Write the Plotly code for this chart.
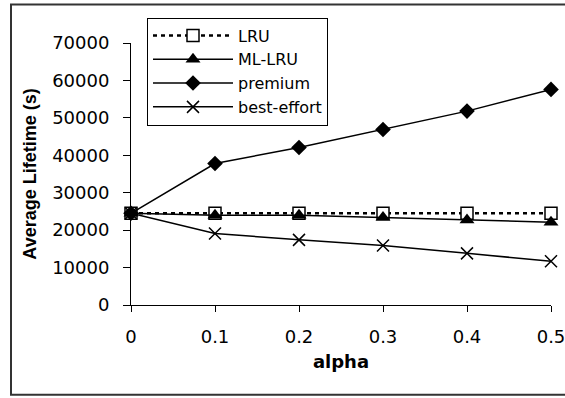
import plotly.graph_objects as go

alpha = [0, 0.1, 0.2, 0.3, 0.4, 0.5]
alpha_labels = ["0", "0.1", "0.2", "0.3", "0.4", "0.5"]
lru = [24500, 24500, 24500, 24500, 24500, 24500]
ml_lru = [24500, 24000, 24000, 23400, 22700, 22100]
premium = [24500, 37800, 42100, 46900, 51800, 57600]
best_effort = [24500, 19100, 17400, 15900, 13800, 11700]

TICKFONT = "DejaVu Sans, sans-serif"
TEXTFONT = "Liberation Sans, Arial, sans-serif"

fig = go.Figure()
fig.add_trace(go.Scatter(
    x=alpha, y=lru, name="LRU", mode="lines+markers",
    line=dict(color="black", width=2.5, dash="4px,4px"),
    marker=dict(symbol="square", size=12, color="white", line=dict(color="black", width=1.5)),
    cliponaxis=False))
fig.add_trace(go.Scatter(
    x=alpha, y=ml_lru, name="ML-LRU", mode="lines+markers",
    line=dict(color="black", width=1.5),
    marker=dict(symbol="triangle-up", size=13, color="black"),
    cliponaxis=False))
fig.add_trace(go.Scatter(
    x=alpha, y=premium, name="premium", mode="lines+markers",
    line=dict(color="black", width=1.5),
    marker=dict(symbol="diamond", size=12, color="black"),
    cliponaxis=False))
fig.add_trace(go.Scatter(
    x=alpha, y=best_effort, name="best-effort", mode="lines+markers",
    line=dict(color="black", width=1.5),
    marker=dict(symbol="x-thin-open", size=12, color="black", line=dict(color="black", width=1.5)),
    cliponaxis=False))

fig.update_layout(
    width=565, height=398,
    margin=dict(l=131, r=14, t=42.5, b=93),
    paper_bgcolor="white", plot_bgcolor="white",
    font=dict(family=TEXTFONT, size=18, color="black"),
    showlegend=True,
    legend=dict(
        x=(147 - 131) / 420, y=(305 - 17) / 262.5, xanchor="left", yanchor="top",
        bordercolor="black", borderwidth=1, bgcolor="white",
        font=dict(family=TICKFONT, size=16, color="black"),
        itemwidth=80, tracegroupgap=0,
    ),
    xaxis=dict(
        range=[0, 0.5], tickvals=alpha, ticktext=alpha_labels,
        showgrid=False, zeroline=False, showline=True, linecolor="black", linewidth=1,
        ticks="outside", ticklen=6, tickcolor="black",
        tickfont=dict(family=TICKFONT, size=18),
        ticklabelstandoff=9, ticklabeloverflow="allow", automargin=False,
        title=dict(text="<b>alpha</b>", font=dict(family=TICKFONT, size=18), standoff=9),
    ),
    yaxis=dict(
        range=[0, 70000], dtick=10000, tickformat="d",
        showgrid=False, zeroline=False, showline=True, linecolor="black", linewidth=1,
        ticks="outside", ticklen=7, tickcolor="black",
        tickfont=dict(family=TICKFONT, size=18),
        ticklabelstandoff=10, automargin=False,
        title=dict(text="<b>Average Lifetime (s)</b>", font=dict(family=TEXTFONT, size=18), standoff=10),
    ),
    shapes=[dict(
        type="rect", xref="paper", yref="paper",
        x0=(11 - 131) / 420, x1=(575 - 131) / 420,
        y0=(305 - 395) / 262.5, y1=(305 - 4) / 262.5,
        line=dict(color="#333333", width=2), fillcolor="rgba(0,0,0,0)", layer="below",
    )],
)

fig.write_html("out.html", config={"displayModeBar": False})

with open("out.html", "r", encoding="utf-8") as f:
    html = f.read()
html = html.replace("<head>", "<head><style>html,body{margin:0;padding:0;overflow:hidden;}</style>", 1)
with open("out.html", "w", encoding="utf-8") as f:
    f.write(html)
